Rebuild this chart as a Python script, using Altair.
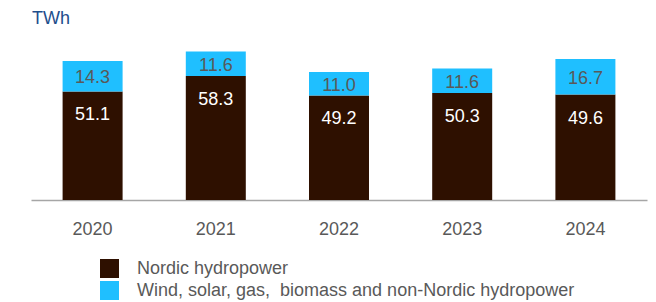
import altair as alt
import pandas as pd

years = ["2020", "2021", "2022", "2023", "2024"]
hydro = [51.1, 58.3, 49.2, 50.3, 49.6]
other = [14.3, 11.6, 11.0, 11.6, 16.7]
series = ["Nordic hydropower", "Wind, solar, gas,\u00a0 biomass and non-Nordic hydropower"]
colors = ["#2e1000", "#1fbfff"]

rows = []
for y, h, o in zip(years, hydro, other):
    rows.append({"year": y, "series": series[0], "value": h, "ord": 0,
                 "label": f"{h:.1f}", "ypos": h, "kind": "hydro"})
    rows.append({"year": y, "series": series[1], "value": o, "ord": 1,
                 "label": f"{o:.1f}", "ypos": h + o / 2, "kind": "other"})
df = pd.DataFrame(rows)

xenc = alt.X("year:N", title=None, sort=years,
             scale=alt.Scale(paddingInner=0.513, paddingOuter=0.2565),
             axis=alt.Axis(labelAngle=0, ticks=False, domainColor="#a6a6a6",
                           domainWidth=1.5, labelFontSize=18, labelColor="#595959",
                           labelPadding=20, labelFont="Liberation Sans", grid=False))

bars = alt.Chart(df).mark_bar().encode(
    x=xenc,
    y=alt.Y("value:Q", stack="zero", scale=alt.Scale(domain=[0, 80]), axis=None),
    color=alt.Color("series:N", scale=alt.Scale(domain=series, range=colors),
                    legend=alt.Legend(title=None, orient="none", legendX=69, legendY=229,
                                      symbolType="square", symbolSize=361,
                                      symbolStrokeWidth=0, labelFontSize=18,
                                      labelColor="#595959", labelFont="Liberation Sans",
                                      labelOffset=18, rowPadding=3, labelLimit=600)),
    order=alt.Order("ord:Q", sort="ascending"),
)

hydro_text = alt.Chart(df).transform_filter(alt.datum.kind == "hydro").mark_text(
    baseline="middle", dy=24, fontSize=18, color="white", font="Liberation Sans"
).encode(x=alt.X("year:N", sort=years), y=alt.Y("ypos:Q"), text="label:N")

other_text = alt.Chart(df).transform_filter(alt.datum.kind == "other").mark_text(
    baseline="middle", dy=2, fontSize=18, color="#595959", font="Liberation Sans"
).encode(x=alt.X("year:N", sort=years), y=alt.Y("ypos:Q"), text="label:N")

chart = alt.layer(bars, hydro_text, other_text).properties(
    width=616, height=170,
    title=alt.TitleParams("TWh", anchor="start", fontSize=18, color="#1f4e8c",
                          font="Liberation Sans", fontWeight="normal", offset=2, dx=1),
    autosize=alt.AutoSizeParams(type="none"),
    padding={"left": 23, "top": 22, "right": 1, "bottom": 102},
).configure_view(stroke=None)

chart.save("out.html", embed_options={"renderer": "svg", "actions": False})
